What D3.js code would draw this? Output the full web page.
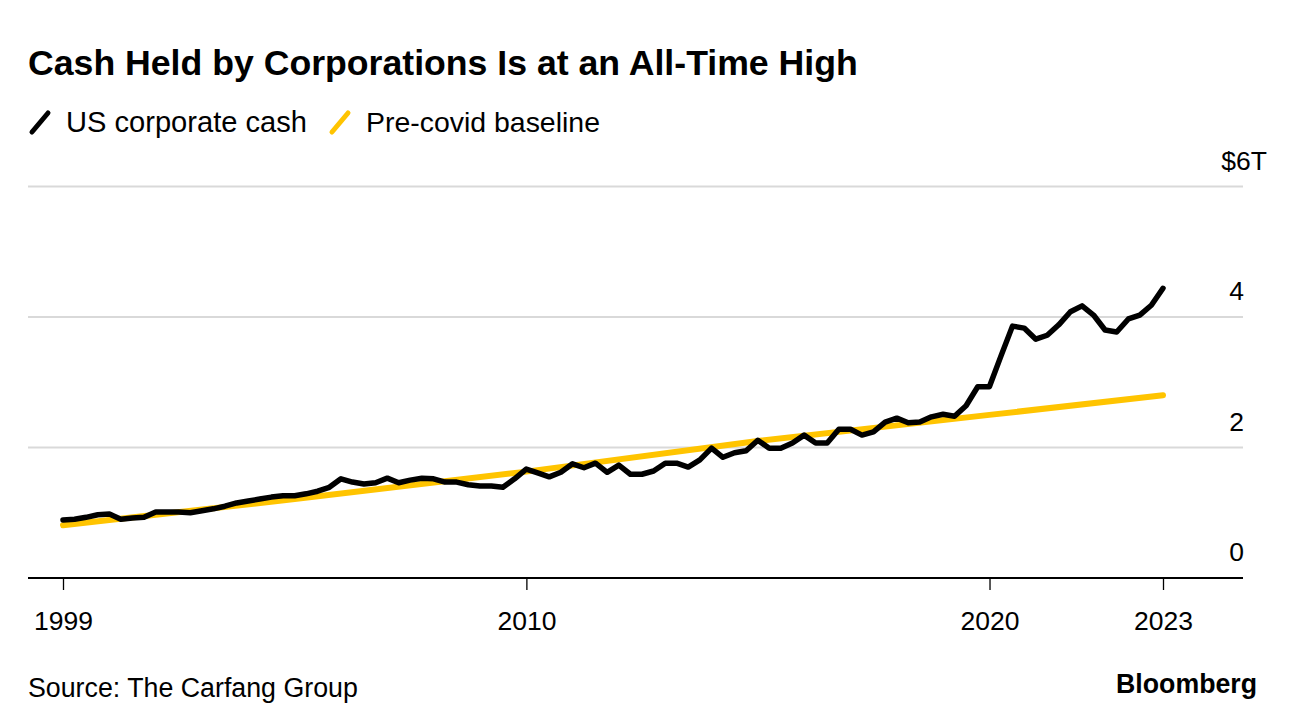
<!DOCTYPE html>
<html>
<head>
<meta charset="utf-8">
<script src="https://cdn.jsdelivr.net/npm/d3@7"></script>
<style>
  html, body { margin: 0; padding: 0; background: #fff; }
  svg { display: block; font-family: "Liberation Sans", Arial, sans-serif; }
</style>
</head>
<body>
<svg id="chart" width="1296" height="728"></svg>
<script>
// ---------------- DATA ----------------
const quarters = [
  "1999-12-31",
  "2000-03-31","2000-06-30","2000-09-30","2000-12-31",
  "2001-03-31","2001-06-30","2001-09-30","2001-12-31",
  "2002-03-31","2002-06-30","2002-09-30","2002-12-31",
  "2003-03-31","2003-06-30","2003-09-30","2003-12-31",
  "2004-03-31","2004-06-30","2004-09-30","2004-12-31",
  "2005-03-31","2005-06-30","2005-09-30","2005-12-31",
  "2006-03-31","2006-06-30","2006-09-30","2006-12-31",
  "2007-03-31","2007-06-30","2007-09-30","2007-12-31",
  "2008-03-31","2008-06-30","2008-09-30","2008-12-31",
  "2009-03-31","2009-06-30","2009-09-30","2009-12-31",
  "2010-03-31","2010-06-30","2010-09-30","2010-12-31",
  "2011-03-31","2011-06-30","2011-09-30","2011-12-31",
  "2012-03-31","2012-06-30","2012-09-30","2012-12-31",
  "2013-03-31","2013-06-30","2013-09-30","2013-12-31",
  "2014-03-31","2014-06-30","2014-09-30","2014-12-31",
  "2015-03-31","2015-06-30","2015-09-30","2015-12-31",
  "2016-03-31","2016-06-30","2016-09-30","2016-12-31",
  "2017-03-31","2017-06-30","2017-09-30","2017-12-31",
  "2018-03-31","2018-06-30","2018-09-30","2018-12-31",
  "2019-03-31","2019-06-30","2019-09-30","2019-12-31",
  "2020-03-31","2020-06-30","2020-09-30","2020-12-31",
  "2021-03-31","2021-06-30","2021-09-30","2021-12-31",
  "2022-03-31","2022-06-30","2022-09-30","2022-12-31",
  "2023-03-31","2023-06-30","2023-09-30"
];

// US corporate cash, $ trillions
const corporateCash = [
  0.89,
  0.90, 0.93, 0.97, 0.98,
  0.90, 0.92, 0.93, 1.01,
  1.01, 1.01, 1.00, 1.03,
  1.06, 1.10, 1.15, 1.18,
  1.21, 1.24, 1.26, 1.26,
  1.29, 1.33, 1.39, 1.52,
  1.47, 1.44, 1.46, 1.53,
  1.46, 1.50, 1.53, 1.52,
  1.47, 1.47, 1.43, 1.41,
  1.41, 1.39, 1.52, 1.67,
  1.61, 1.55, 1.62, 1.75,
  1.69, 1.76, 1.62, 1.73,
  1.59, 1.59, 1.64, 1.76,
  1.76, 1.70, 1.81, 1.99,
  1.85, 1.92, 1.95, 2.11,
  1.99, 1.99, 2.07, 2.19,
  2.07, 2.07, 2.28, 2.28,
  2.19, 2.24, 2.39, 2.45,
  2.38, 2.39, 2.47, 2.51,
  2.48, 2.64, 2.93, 2.93,
  3.40, 3.86, 3.83, 3.66,
  3.72, 3.88, 4.08, 4.17,
  4.03, 3.80, 3.77, 3.97,
  4.03, 4.18, 4.44
];

// Pre-covid baseline, read at selected quarters
const baselineDates  = ["1999-12-31", "2004-12-31", "2009-12-31", "2014-12-31", "2019-12-31", "2023-09-30"];
const baselineValues = [0.81, 1.21, 1.63, 2.10, 2.50, 2.80];

const xTickDates  = ["1999-12-31", "2010-01-01", "2020-01-01", "2023-09-30"];
const xTickLabels = ["1999", "2010", "2020", "2023"];
const yTicks = [0, 2, 4, 6];
const yTickLabels = ["0", "2", "4", "$6T"];

const seriesNames = ["US corporate cash", "Pre-covid baseline"];
const seriesColors = ["#000000", "#ffc400"];

// ---------------- CHART ----------------
const parse = d3.timeParse("%Y-%m-%d");
const svg = d3.select("#chart");

const plotLeft = 28, plotRight = 1243;
const x = d3.scaleTime()
  .domain([parse(quarters[0]), parse(quarters[quarters.length - 1])])
  .range([63, 1163]);
const y = d3.scaleLinear().domain([0, 6]).range([578, 186.5]);

// Title
const title = svg.append("text")
  .attr("x", 28).attr("y", 75)
  .attr("font-weight", "bold").attr("font-size", 32)
  .attr("fill", "#000")
  .text("Cash Held by Corporations Is at an All-Time High");

function fit(sel, width) {
  const n = sel.node();
  const fs = +sel.attr("font-size");
  const w = n.getComputedTextLength();
  sel.attr("font-size", (fs * width / w).toFixed(2));
}
fit(title, 830);

// Legend
const legendItems = [
  { name: seriesNames[0], color: seriesColors[0], ix: 30, tx: 66, w: 241 },
  { name: seriesNames[1], color: seriesColors[1], ix: 330, tx: 366, w: 234 }
];
legendItems.forEach(it => {
  svg.append("line")
    .attr("x1", it.ix + 2).attr("y1", 132)
    .attr("x2", it.ix + 18).attr("y2", 113)
    .attr("stroke", it.color).attr("stroke-width", 5)
    .attr("stroke-linecap", "round");
  const t = svg.append("text")
    .attr("x", it.tx).attr("y", 132)
    .attr("font-size", 25).attr("fill", "#000")
    .text(it.name);
  fit(t, it.w);
});

// Gridlines
svg.append("g").selectAll("line")
  .data(yTicks.filter(d => d > 0))
  .join("line")
  .attr("x1", plotLeft).attr("x2", plotRight)
  .attr("y1", d => y(d)).attr("y2", d => y(d))
  .attr("stroke", "#d9d9d9").attr("stroke-width", 2);

// Y labels (right aligned)
svg.append("g").selectAll("text")
  .data(yTicks)
  .join("text")
  .attr("x", (d, i) => i === yTicks.length - 1 ? 1267 : 1244)
  .attr("y", d => y(d) - 17)
  .attr("text-anchor", "end")
  .attr("font-size", 26.5)
  .attr("fill", "#000")
  .text((d, i) => yTickLabels[i]);

// Series
const lineGen = d3.line()
  .x(d => x(d.date)).y(d => y(d.value))
  .curve(d3.curveLinear);

const baseData = baselineDates.map((d, i) => ({ date: parse(d), value: baselineValues[i] }));
svg.append("path")
  .datum(baseData)
  .attr("d", lineGen)
  .attr("fill", "none")
  .attr("stroke", seriesColors[1])
  .attr("stroke-width", 6)
  .attr("stroke-linecap", "round");

const cashData = quarters.map((d, i) => ({ date: parse(d), value: corporateCash[i] }));
svg.append("path")
  .datum(cashData)
  .attr("d", lineGen)
  .attr("fill", "none")
  .attr("stroke", seriesColors[0])
  .attr("stroke-width", 5.5)
  .attr("stroke-linejoin", "round")
  .attr("stroke-linecap", "round");

// X axis
svg.append("line")
  .attr("x1", plotLeft).attr("x2", plotRight)
  .attr("y1", 578).attr("y2", 578)
  .attr("stroke", "#000").attr("stroke-width", 2);

const xAxis = d3.axisBottom(x)
  .tickValues(xTickDates.map(parse))
  .tickSize(12)
  .tickSizeOuter(0)
  .tickFormat((d, i) => xTickLabels[i]);

const gx = svg.append("g")
  .attr("transform", "translate(0,578)")
  .call(xAxis);
gx.select(".domain").remove();
gx.selectAll(".tick line").attr("stroke", "#000").attr("stroke-width", 1.3);
gx.selectAll(".tick text")
  .attr("font-size", 26.5)
  .attr("font-family", "Liberation Sans, Arial, sans-serif")
  .attr("fill", "#000")
  .attr("dy", null)
  .attr("y", 52);

// Footer
const src = svg.append("text")
  .attr("x", 28).attr("y", 697)
  .attr("font-size", 25).attr("fill", "#000")
  .text("Source: The Carfang Group");
fit(src, 330);

const bb = svg.append("text")
  .attr("x", 1257).attr("y", 693)
  .attr("text-anchor", "end")
  .attr("font-weight", "bold")
  .attr("font-size", 25).attr("fill", "#000")
  .text("Bloomberg");
fit(bb, 141);
</script>
</body>
</html>
